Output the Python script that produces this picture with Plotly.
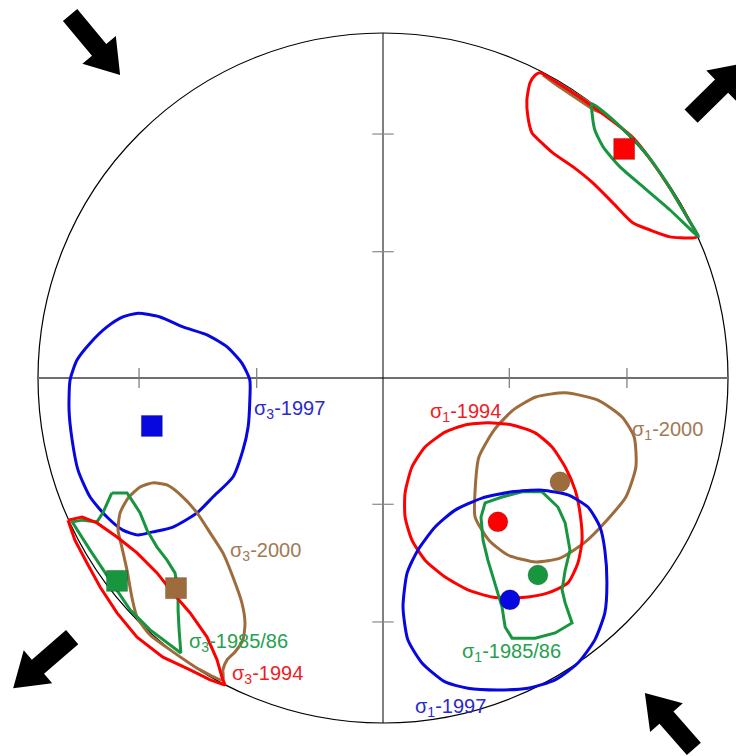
import numpy as np
import plotly.graph_objects as go

# ── 데이터: 등면적 투영(Schmidt net) 좌표, 기본원 반지름 = 1 ──────────
# σ3 신뢰영역 (좌하단) + 북동쪽 반대편 조각
s3_1994_x = [-0.913, -0.872, -0.829, -0.771, -0.713, -0.655, -0.609, -0.559, -0.510, -0.481,
             -0.467, -0.458, -0.501, -0.559, -0.638, -0.713, -0.771, -0.820, -0.858, -0.893, -0.913]
s3_1994_y = [-0.412, -0.403, -0.420, -0.461, -0.507, -0.565, -0.623, -0.681, -0.751, -0.817,
             -0.867, -0.890, -0.875, -0.846, -0.809, -0.751, -0.681, -0.606, -0.536, -0.470, -0.412]
s3_1994_ne_x = [0.455, 0.528, 0.609, 0.725, 0.803, 0.870, 0.910, 0.890, 0.832, 0.774, 0.725, 0.667,
                0.609, 0.551, 0.493, 0.461, 0.432, 0.420, 0.417, 0.426, 0.441, 0.455]
s3_1994_ne_y = [0.885, 0.841, 0.786, 0.696, 0.594, 0.487, 0.409, 0.406, 0.409, 0.429, 0.449, 0.507,
                0.565, 0.612, 0.652, 0.681, 0.710, 0.757, 0.806, 0.855, 0.878, 0.885]

s3_1985_x = [-0.786, -0.742, -0.728, -0.704, -0.684, -0.655, -0.626, -0.603, -0.594, -0.594, -0.591,
             -0.586, -0.675, -0.733, -0.791, -0.849, -0.901, -0.870, -0.829, -0.812, -0.786]
s3_1985_y = [-0.333, -0.333, -0.354, -0.391, -0.441, -0.490, -0.528, -0.565, -0.614, -0.672, -0.730,
             -0.797, -0.730, -0.672, -0.586, -0.499, -0.417, -0.412, -0.417, -0.391, -0.333]
s3_1985_ne_x = [0.605, 0.674, 0.754, 0.823, 0.881, 0.915, 0.899, 0.832, 0.754, 0.687, 0.638, 0.614, 0.606, 0.605]
s3_1985_ne_y = [0.795, 0.742, 0.661, 0.565, 0.467, 0.410, 0.423, 0.487, 0.554, 0.612, 0.670, 0.719, 0.768, 0.795]

s3_2000_x = [-0.667, -0.626, -0.580, -0.539, -0.501, -0.464, -0.435, -0.409, -0.400, -0.406, -0.429,
             -0.452, -0.464, -0.464, -0.530, -0.617, -0.675, -0.713, -0.728, -0.742, -0.757, -0.768,
             -0.762, -0.739, -0.704, -0.667]
s3_2000_y = [-0.304, -0.310, -0.345, -0.391, -0.449, -0.507, -0.577, -0.652, -0.710, -0.759, -0.794,
             -0.817, -0.846, -0.875, -0.846, -0.788, -0.745, -0.693, -0.635, -0.557, -0.490, -0.441,
             -0.391, -0.348, -0.316, -0.304]
s3_2000_ne_x = [0.464, 0.528, 0.595, 0.640, 0.610, 0.562, 0.499, 0.464]
s3_2000_ne_y = [0.878, 0.843, 0.800, 0.766, 0.778, 0.810, 0.852, 0.878]

s3_1997_x = [-0.710, -0.646, -0.580, -0.510, -0.452, -0.409, -0.386, -0.386, -0.391, -0.406, -0.435,
             -0.493, -0.539, -0.609, -0.667, -0.710, -0.754, -0.800, -0.849, -0.884, -0.901, -0.910,
             -0.907, -0.887, -0.849, -0.800, -0.754, -0.710]
s3_1997_y = [0.188, 0.177, 0.148, 0.125, 0.090, 0.043, -0.006, -0.064, -0.142, -0.209, -0.287,
             -0.345, -0.391, -0.432, -0.446, -0.455, -0.441, -0.403, -0.345, -0.267, -0.180, -0.093,
             -0.006, 0.052, 0.101, 0.148, 0.177, 0.188]

# σ1 신뢰영역 (우하단)
s1_1994_x = [0.304, 0.374, 0.441, 0.490, 0.528, 0.557, 0.571, 0.577, 0.565, 0.536, 0.478, 0.420,
             0.362, 0.316, 0.246, 0.180, 0.122, 0.084, 0.064, 0.064, 0.084, 0.122, 0.180, 0.238, 0.304]
s1_1994_y = [-0.130, -0.136, -0.159, -0.200, -0.258, -0.325, -0.391, -0.470, -0.536, -0.594, -0.623,
             -0.635, -0.638, -0.635, -0.614, -0.577, -0.528, -0.470, -0.403, -0.333, -0.258, -0.200,
             -0.157, -0.136, -0.130]
s1_2000_x = [0.528, 0.623, 0.693, 0.728, 0.733, 0.704, 0.649, 0.583, 0.513, 0.443, 0.362, 0.307,
             0.267, 0.267, 0.278, 0.322, 0.377, 0.443, 0.528]
s1_2000_y = [-0.043, -0.064, -0.113, -0.171, -0.258, -0.345, -0.412, -0.478, -0.522, -0.533, -0.513,
             -0.470, -0.403, -0.325, -0.229, -0.151, -0.093, -0.055, -0.043]
s1_1997_x = [0.461, 0.536, 0.594, 0.629, 0.643, 0.649, 0.643, 0.614, 0.565, 0.499, 0.420, 0.333,
             0.246, 0.180, 0.113, 0.072, 0.058, 0.070, 0.101, 0.151, 0.209, 0.287, 0.374, 0.461]
s1_1997_y = [-0.325, -0.339, -0.374, -0.432, -0.499, -0.594, -0.681, -0.759, -0.826, -0.875, -0.899,
             -0.904, -0.899, -0.881, -0.826, -0.759, -0.664, -0.565, -0.499, -0.432, -0.383, -0.348,
             -0.330, -0.325]
s1_1985_x = [0.461, 0.507, 0.528, 0.542, 0.528, 0.519, 0.528, 0.548, 0.499, 0.441, 0.374, 0.354,
             0.345, 0.325, 0.304, 0.290, 0.284, 0.296, 0.345, 0.403, 0.461]
s1_1985_y = [-0.330, -0.374, -0.420, -0.499, -0.557, -0.614, -0.652, -0.710, -0.739, -0.754, -0.754,
             -0.722, -0.664, -0.594, -0.528, -0.470, -0.403, -0.362, -0.345, -0.330, -0.330]

# 주응력축 평균 방향 (색: 1985/86, 1994, 1997, 2000)
sig3_x = [-0.771, 0.699, -0.670, -0.600]
sig3_y = [-0.588, 0.664, -0.139, -0.609]
sig1_x = [0.449, 0.333, 0.368, 0.513]
sig1_y = [-0.571, -0.417, -0.643, -0.301]

# 응력 화살표 (꼬리 → 머리)
arrows = [
    ((-0.907, 1.052), (-0.762, 0.878)),
    ((0.893, 0.759), (1.049, 0.913)),
    ((-0.901, -0.751), (-1.072, -0.899)),
    ((0.901, -1.075), (0.759, -0.913)),
]

RED, GREEN, BROWN, BLUE = "#FF0000", "#17963F", "#9E6C3C", "#0707E0"
MARKER = [GREEN, RED, BLUE, BROWN]

fig = go.Figure()


def add_loop(x, y, color, smooth=True):
    fig.add_trace(go.Scatter(
        x=x, y=y, mode="lines", hoverinfo="skip", showlegend=False,
        line=dict(color=color, width=3, shape="spline" if smooth else "linear",
                  smoothing=0.6 if smooth else None),
    ))


add_loop(s3_2000_ne_x, s3_2000_ne_y, BROWN, smooth=False)
add_loop(s3_1994_ne_x, s3_1994_ne_y, RED)
add_loop(s3_1985_ne_x, s3_1985_ne_y, GREEN)
add_loop(s3_1997_x, s3_1997_y, BLUE)
add_loop(s3_2000_x, s3_2000_y, BROWN)
add_loop(s3_1985_x, s3_1985_y, GREEN, smooth=False)
add_loop(s3_1994_x, s3_1994_y, RED, smooth=False)
add_loop(s1_2000_x, s1_2000_y, BROWN)
add_loop(s1_1994_x, s1_1994_y, RED)
add_loop(s1_1985_x, s1_1985_y, GREEN, smooth=False)
add_loop(s1_1997_x, s1_1997_y, BLUE)

fig.add_trace(go.Scatter(
    x=sig3_x, y=sig3_y, mode="markers", hoverinfo="skip", showlegend=False,
    marker=dict(symbol="square", size=21, color=MARKER, line=dict(width=0.6, color="rgba(0,0,0,0.35)")),
))
fig.add_trace(go.Scatter(
    x=sig1_x, y=sig1_y, mode="markers", hoverinfo="skip", showlegend=False,
    marker=dict(symbol="circle", size=20, color=MARKER, line=dict(width=0.6, color="rgba(0,0,0,0.3)")),
))

# 화살표 다각형
for (tx, ty), (px, py) in arrows:
    d = np.array([px - tx, py - ty])
    u = d / np.linalg.norm(d)
    n = np.array([-u[1], u[0]])
    t, p = np.array([tx, ty]), np.array([px, py])
    base = p - u * 0.095
    pts = [t + n * 0.027, base + n * 0.027, base + n * 0.063, p,
           base - n * 0.063, base - n * 0.027, t - n * 0.027, t + n * 0.027]
    fig.add_trace(go.Scatter(
        x=[q[0] for q in pts], y=[q[1] for q in pts], mode="lines", fill="toself",
        fillcolor="black", line=dict(width=0, color="black"), hoverinfo="skip", showlegend=False,
    ))

# 기본원, 십자선, 눈금 (30°, 60° 등면적 반경)
fig.add_shape(type="circle", x0=-1, y0=-1, x1=1, y1=1, line=dict(color="black", width=1.2), layer="below")
fig.add_shape(type="line", x0=-1, y0=0, x1=1, y1=0, line=dict(color="#6E6E6E", width=2), layer="below")
fig.add_shape(type="line", x0=0, y0=-1, x1=0, y1=1, line=dict(color="black", width=1), layer="below")
for plunge in (30, 60):
    r = np.sqrt(2) * np.sin(np.radians((90 - plunge) / 2))
    for s in (-1, 1):
        fig.add_shape(type="line", x0=s * r, x1=s * r, y0=-0.029, y1=0.029,
                      line=dict(color="#777777", width=1.2), layer="below")
        fig.add_shape(type="line", x0=-0.031, x1=0.031, y0=s * r, y1=s * r,
                      line=dict(color="#888888", width=1.2), layer="below")

labels = [
    ("σ<sub>3</sub>-1997", -0.380, -0.090, "#2A2AD0"),
    ("σ<sub>1</sub>-1994", 0.130, -0.099, "#EE1C25"),
    ("σ<sub>1</sub>-2000", 0.716, -0.151, "#A07A55"),
    ("σ<sub>3</sub>-2000", -0.449, -0.504, "#A07A55"),
    ("σ<sub>3</sub>-1985/86", -0.568, -0.768, "#25A050"),
    ("σ<sub>3</sub>-1994", -0.443, -0.858, "#EE1C25"),
    ("σ<sub>1</sub>-1985/86", 0.223, -0.797, "#25A050"),
    ("σ<sub>1</sub>-1997", 0.087, -0.954, "#2A2AD0"),
]
for text, x, y, c in labels:
    fig.add_annotation(x=x, y=y, text=text, showarrow=False, xanchor="left", yanchor="middle",
                       font=dict(family="Liberation Sans, Arial, sans-serif", size=20, color=c))

# 페이지 기본 여백(8px)을 감안해 원 중심이 (383, 378)에 오도록 범위 설정
fig.update_layout(
    width=736, height=748,
    margin=dict(l=0, r=0, t=0, b=0),
    paper_bgcolor="white", plot_bgcolor="white",
    xaxis=dict(range=[-375 / 345, 361 / 345], visible=False, fixedrange=True),
    yaxis=dict(range=[-378 / 345, 370 / 345], visible=False, fixedrange=True),
    showlegend=False,
)

fig.write_html("out.html")
